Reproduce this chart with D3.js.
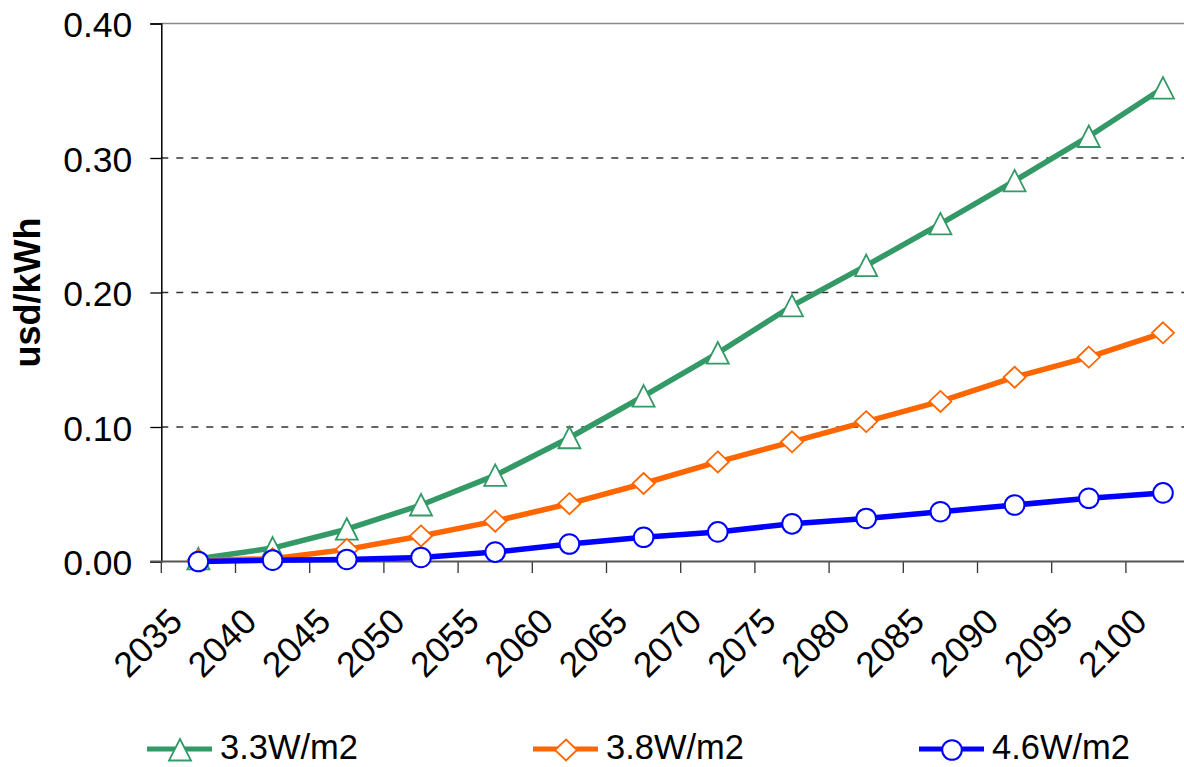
<!DOCTYPE html>
<html>
<head>
<meta charset="utf-8">
<script src="https://cdn.jsdelivr.net/npm/d3@7"></script>
<style>
  html, body { margin: 0; padding: 0; background: #fff; }
  svg { display: block; font-family: "Liberation Sans", Arial, sans-serif; }
</style>
</head>
<body>
<svg id="chart" width="1184" height="767"></svg>
<script>
// ---- data ----
const categories = ['2035','2040','2045','2050','2055','2060','2065','2070','2075','2080','2085','2090','2095','2100'];
const series33 = [0.002,0.010,0.024,0.042,0.064,0.092,0.123,0.155,0.190,0.220,0.251,0.283,0.316,0.352];
const series38 = [0.001,0.002,0.009,0.019,0.030,0.043,0.058,0.074,0.089,0.104,0.119,0.137,0.152,0.170];
const series46 = [0.000,0.001,0.0015,0.003,0.007,0.013,0.018,0.022,0.028,0.032,0.037,0.042,0.047,0.051];
const seriesNames = ['3.3W/m2','3.8W/m2','4.6W/m2'];
const yTicks = [0, 0.1, 0.2, 0.3, 0.4];
const yTitle = 'usd/kWh';

const series = [
  {name: seriesNames[0], values: series33, color: '#339966', marker: 'triangle'},
  {name: seriesNames[1], values: series38, color: '#FF6600', marker: 'diamond'},
  {name: seriesNames[2], values: series46, color: '#0000FF', marker: 'circle'}
];

const svg = d3.select('#chart');
svg.append('rect').attr('width', 1184).attr('height', 767).attr('fill', '#fff');

const plotLeft = 161.3, plotRight = 1200.1, plotTop = 23.5, plotBottom = 561.5;
const x = d3.scaleBand().domain(categories).range([plotLeft, plotRight]).padding(0);
const y = d3.scaleLinear().domain([0, 0.4]).range([plotBottom, plotTop]);
const cx = c => x(c) + x.bandwidth() / 2;

// gridlines
svg.append('g').selectAll('line')
  .data(yTicks.filter(d => d > 0 && d < 0.4))
  .join('line')
  .attr('x1', plotLeft).attr('x2', plotRight)
  .attr('y1', d => y(d)).attr('y2', d => y(d))
  .attr('stroke', '#333').attr('stroke-width', 1.3)
  .attr('stroke-dasharray', '7,8');

// top border line
svg.append('line')
  .attr('x1', plotLeft).attr('x2', plotRight)
  .attr('y1', y(0.4)).attr('y2', y(0.4))
  .attr('stroke', '#8a8a8a').attr('stroke-width', 1.5);

// y axis
const yAxis = d3.axisLeft(y).tickValues(yTicks).tickFormat(d3.format('.2f')).tickSize(11).tickPadding(0);
const gy = svg.append('g').attr('transform', `translate(${plotLeft},0)`).call(yAxis);
gy.select('.domain').attr('stroke', '#000').attr('stroke-width', 1.5);
gy.selectAll('.tick line').attr('stroke', '#000').attr('stroke-width', 1.3);
gy.selectAll('.tick text')
  .attr('x', -29).attr('dy', null).attr('y', 13)
  .attr('font-size', 35.5).attr('fill', '#000')
  .attr('font-family', '"Liberation Sans", Arial, sans-serif');

// x axis (labels via axis, boundary ticks separately)
const xAxis = d3.axisBottom(x).tickSize(0).tickPadding(0);
const gx = svg.append('g').attr('transform', `translate(0,${plotBottom})`).call(xAxis);
gx.select('.domain').remove();
gx.selectAll('.tick text')
  .attr('y', 0).attr('dy', null)
  .attr('text-anchor', 'end')
  .attr('transform', 'translate(-14,62) rotate(-45)')
  .attr('font-size', 35.5).attr('fill', '#000')
  .attr('font-family', '"Liberation Sans", Arial, sans-serif');

const bounds = categories.map(c => x(c)).concat([x(categories[categories.length - 1]) + x.bandwidth()]);
svg.append('g').selectAll('line').data(bounds).join('line')
  .attr('x1', d => d).attr('x2', d => d)
  .attr('y1', plotBottom).attr('y2', plotBottom + 11.5)
  .attr('stroke', '#333').attr('stroke-width', 1.3);
svg.append('line')
  .attr('x1', plotLeft - 11).attr('x2', plotRight)
  .attr('y1', plotBottom).attr('y2', plotBottom)
  .attr('stroke', '#555').attr('stroke-width', 2.2);

// y title
svg.append('text')
  .attr('transform', 'translate(40,292.5) rotate(-90)')
  .attr('text-anchor', 'middle')
  .attr('font-size', 36).attr('font-weight', 'bold').attr('fill', '#000')
  .text(yTitle);

// marker drawing
function drawMarker(g, type, color, px, py) {
  if (type === 'triangle') {
    g.append('path')
      .attr('d', `M${px},${py - 11} L${px + 11},${py + 10.5} L${px - 11},${py + 10.5} Z`)
      .attr('fill', '#fff').attr('stroke', color).attr('stroke-width', 1.8);
  } else if (type === 'diamond') {
    g.append('path')
      .attr('d', `M${px},${py - 10.5} L${px + 11},${py} L${px},${py + 10.5} L${px - 11},${py} Z`)
      .attr('fill', '#fff').attr('stroke', color).attr('stroke-width', 1.8);
  } else {
    g.append('circle').attr('cx', px).attr('cy', py).attr('r', 9.8)
      .attr('fill', '#fff').attr('stroke', color).attr('stroke-width', 2);
  }
}

const line = d3.line().x((d, i) => cx(categories[i])).y(d => y(d));
series.forEach(s => {
  const g = svg.append('g');
  g.append('path').attr('d', line(s.values))
    .attr('fill', 'none').attr('stroke', s.color).attr('stroke-width', 5.5)
    .attr('stroke-linejoin', 'round');
  s.values.forEach((v, i) => drawMarker(g, s.marker, s.color, cx(categories[i]), y(v)));
});

// legend
const legendStarts = [147, 533, 919];
series.forEach((s, i) => {
  const g = svg.append('g');
  const x0 = legendStarts[i];
  g.append('line').attr('x1', x0).attr('x2', x0 + 65).attr('y1', 749).attr('y2', 749)
    .attr('stroke', s.color).attr('stroke-width', 5);
  drawMarker(g, s.marker, s.color, x0 + 33, 750);
  g.append('text').attr('x', x0 + 73).attr('y', 759)
    .attr('font-size', 34.5).attr('fill', '#000').text(s.name);
});
</script>
</body>
</html>
